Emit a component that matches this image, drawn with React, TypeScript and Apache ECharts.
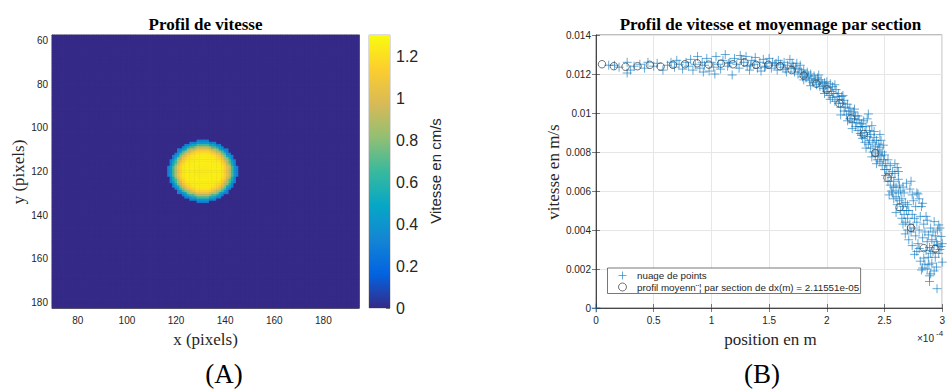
import React, { useEffect, useRef } from 'react';
import * as echarts from 'echarts';

// ---------- data ----------
// left panel: image pixel grid (pixels)
const HEAT_X: number[] = Array.from({ length: 125 }, (_, i) => 70 + i);
const HEAT_Y: number[] = Array.from({ length: 125 }, (_, i) => 58 + i);
const SPOT_X = 131; // centre of the jet (pixels)
const SPOT_Y = 120;
const DX = 2.11551e-5; // m per pixel / section width
const PROFILE_RMAX = 3.0; // x10^-4 m

// right panel: averaged profile (position x10^-4 m, velocity x10^-3 m/s)
const profileX = [0.052, 0.155, 0.256, 0.36, 0.466, 0.56, 0.667, 0.77, 0.876, 0.977, 1.083, 1.186, 1.287, 1.387, 1.494, 1.594, 1.695, 1.8, 1.91, 2.0, 2.11, 2.21, 2.32, 2.42, 2.525, 2.63, 2.73, 2.84, 2.94];
const profileV = [12.5, 12.4, 12.37, 12.4, 12.47, 12.38, 12.47, 12.5, 12.55, 12.48, 12.53, 12.5, 12.6, 12.47, 12.47, 12.4, 12.2, 11.92, 11.5, 11.2, 10.49, 9.72, 8.92, 7.95, 6.68, 5.17, 4.11, 3.07, 3.03];

// point cloud: [position x10^-4 m, velocity x10^-3 m/s]
const cloudPoints: number[][] = [
  [0, 0],
  [0.11, 12.45], [0.16, 12.45], [0.2, 12.35], [0.27, 12.05],
  [0.27, 12.6], [0.30, 12.2], [0.33, 12.4], [0.38, 12.5], [0.42, 12.3], [0.45, 12.6], [0.5, 12.4], [0.53, 12.55], [0.58, 12.2], [0.62, 12.45], [0.65, 12.6], [0.68, 12.35], [0.72, 12.5], [0.75, 12.25], [0.7, 12.7],
  [0.78, 12.6], [0.8, 12.4], [0.82, 12.75], [0.84, 12.2], [0.86, 12.5], [0.88, 12.9], [0.9, 12.3], [0.92, 12.6], [0.94, 12.45], [0.96, 12.8], [0.98, 12.15], [1.0, 12.6], [1.02, 12.35], [1.04, 12.9], [1.06, 12.5], [1.08, 12.25], [1.1, 12.7], [1.12, 13.0], [1.14, 12.4], [1.16, 12.6], [1.18, 11.95], [1.2, 12.8], [1.03, 12.0], [0.93, 12.1], [1.15, 12.55],
  [1.22, 12.5], [1.24, 12.3], [1.26, 12.75], [1.28, 12.6], [1.3, 12.9], [1.31, 12.4], [1.33, 12.2], [1.35, 12.7], [1.37, 12.5], [1.38, 12.85], [1.4, 12.3], [1.42, 12.6], [1.43, 12.15], [1.45, 12.75], [1.47, 12.4], [1.48, 12.55], [1.5, 12.8], [1.52, 12.3], [1.53, 12.6], [1.55, 12.45], [1.57, 12.2], [1.58, 12.7], [1.6, 12.5], [1.62, 12.35], [1.63, 12.6], [1.65, 12.1], [1.66, 12.45], [1.68, 12.75], [1.69, 12.3], [1.25, 12.95], [1.34, 12.45], [1.46, 12.35], [1.56, 12.55], [1.64, 12.25], [1.7, 12.55],
  [1.71, 12.4], [1.72, 12.1], [1.73, 12.3], [1.75, 12.0], [1.76, 12.25], [1.77, 12.45], [1.78, 12.1], [1.79, 11.85], [1.8, 12.2], [1.81, 12.0], [1.82, 11.8], [1.83, 12.1], [1.84, 11.9], [1.85, 11.65], [1.86, 12.0], [1.87, 11.75], [1.88, 11.55], [1.89, 11.9], [1.9, 11.7], [1.91, 11.45], [1.92, 11.8], [1.93, 11.6], [1.94, 11.35], [1.95, 11.7], [1.96, 11.5], [1.97, 11.25], [1.98, 11.55], [1.99, 11.4], [2.0, 11.1], [2.0, 11.6], [1.74, 12.55], [1.86, 11.4], [1.93, 11.95], [1.98, 11.0], [1.8, 11.7],
  [2.01, 11.3], [2.02, 10.9], [2.03, 11.5], [2.04, 11.1], [2.05, 10.8], [2.05, 11.35], [2.06, 11.0], [2.07, 10.6], [2.08, 11.2], [2.09, 10.85], [2.1, 10.5], [2.1, 11.0], [2.11, 10.7], [2.12, 10.3], [2.13, 10.85], [2.14, 10.5], [2.15, 10.1], [2.15, 10.65], [2.16, 10.3], [2.17, 9.9], [2.18, 10.45], [2.19, 10.1], [2.2, 9.7], [2.2, 10.25], [2.21, 9.95], [2.22, 9.5], [2.23, 10.05], [2.24, 9.7], [2.25, 9.3], [2.25, 9.85], [2.26, 9.5], [2.27, 9.1], [2.28, 9.65], [2.29, 9.3], [2.3, 8.85], [2.3, 9.45], [2.12, 9.9], [2.18, 9.6], [2.24, 10.2], [2.07, 11.45], [2.27, 9.85], [2.14, 10.9], [2.22, 9.2], [2.29, 8.95], [2.03, 10.7],
  [2.31, 9.3], [2.31, 8.7], [2.32, 9.6], [2.33, 9.0], [2.33, 8.5], [2.34, 9.3], [2.35, 8.8], [2.35, 9.7], [2.36, 8.4], [2.37, 9.1], [2.37, 8.6], [2.38, 8.2], [2.38, 8.9], [2.39, 9.35], [2.4, 8.5], [2.4, 8.0], [2.41, 8.75], [2.42, 8.3], [2.42, 7.8], [2.43, 8.6], [2.44, 8.1], [2.44, 7.6], [2.45, 8.4], [2.45, 7.9], [2.46, 8.25], [2.46, 7.5], [2.47, 7.8], [2.47, 8.6], [2.48, 7.3], [2.48, 8.0], [2.49, 7.6], [2.49, 8.35], [2.5, 7.1], [2.5, 7.85], [2.36, 9.95], [2.41, 9.05], [2.34, 8.2], [2.43, 7.4], [2.39, 7.75], [2.46, 8.9],
  [2.51, 7.4], [2.51, 6.8], [2.52, 7.1], [2.53, 6.5], [2.53, 7.6], [2.54, 6.9], [2.55, 7.3], [2.55, 6.3], [2.56, 6.7], [2.57, 7.0], [2.57, 5.9], [2.58, 6.5], [2.58, 5.6], [2.59, 6.9], [2.6, 6.2], [2.6, 5.7], [2.61, 7.2], [2.61, 5.3], [2.62, 6.6], [2.62, 5.9], [2.63, 5.5], [2.63, 6.3], [2.64, 5.0], [2.64, 6.0], [2.65, 4.6], [2.65, 5.6], [2.66, 6.2], [2.66, 5.2], [2.67, 4.8], [2.67, 5.9], [2.68, 4.4], [2.68, 5.4], [2.69, 5.0], [2.69, 6.4], [2.7, 4.6], [2.7, 5.3], [2.56, 6.0], [2.59, 7.4], [2.62, 7.0], [2.54, 5.8], [2.66, 4.3], [2.68, 3.8], [2.6, 4.9], [2.7, 4.0], [2.58, 6.2],
  [2.71, 3.5], [2.71, 5.0], [2.72, 6.1], [2.72, 4.3], [2.73, 6.5], [2.73, 3.9], [2.74, 3.2], [2.74, 4.8], [2.75, 5.5], [2.75, 4.1], [2.76, 2.75], [2.76, 4.6], [2.77, 3.7], [2.77, 5.2], [2.78, 5.9], [2.78, 4.4], [2.79, 3.3], [2.79, 5.85], [2.8, 3.05], [2.8, 4.0], [2.81, 4.7], [2.81, 2.4], [2.82, 5.2], [2.82, 1.95], [2.83, 3.6], [2.83, 5.37], [2.83, 2.05], [2.84, 2.56], [2.84, 4.3], [2.85, 2.25], [2.85, 3.9], [2.86, 2.95], [2.86, 4.7], [2.87, 3.4], [2.87, 4.5], [2.88, 2.6], [2.88, 3.75], [2.885, 2.22], [2.89, 1.65], [2.89, 1.36], [2.89, 3.1], [2.9, 4.1], [2.9, 2.81], [2.9, 1.75], [2.91, 3.5], [2.91, 2.3], [2.92, 3.9], [2.92, 2.9], [2.93, 4.43], [2.93, 3.2], [2.94, 2.6], [2.94, 3.7], [2.95, 3.4], [2.955, 0.99], [2.95, 2.1], [2.96, 3.24], [2.96, 4.0], [2.97, 4.26], [2.97, 2.8], [2.98, 4.1], [2.98, 3.0], [2.99, 3.67], [2.99, 3.15], [3.0, 2.35], [3.0, 3.3], [2.78, 2.9], [2.8, 5.6], [2.74, 5.8], [2.87, 2.0], [2.93, 1.9],
];

const COLORBAR_MAX = 1.3; // cm/s
const PARULA = ['#352a87', '#0363e1', '#1485d4', '#06a7c6', '#38b99e', '#92bf73', '#d9ba56', '#fcce2e', '#f9fb0e'];

const LEGEND_CLOUD = 'nuage de points';
const LEGEND_MEAN = 'profil moyenn\u00a8\u00a6 par section de dx(m) = 2.11551e-05';

// ---------- helpers ----------
const SANS = 'Liberation Sans, Arial, sans-serif';
const SERIF = 'Liberation Serif, Times New Roman, serif';
const AX = '#262626';
const PLUS_PATH = 'path://M5,0L5,10M0,5L10,5';
const CLOUD_COLOR = 'rgba(0,114,189,0.75)';
const MEAN_COLOR = '#3a3a3a';

function buildHeat(): number[][] {
  const out: number[][] = [];
  HEAT_X.forEach((xv, i) => {
    HEAT_Y.forEach((yv, j) => {
      const r = Math.hypot(xv - SPOT_X, yv - SPOT_Y) * DX * 1e4;
      let v = 0;
      if (r <= PROFILE_RMAX) {
        let best = 0;
        profileX.forEach((p, k) => {
          if (Math.abs(p - r) < Math.abs(profileX[best] - r)) best = k;
        });
        v = profileV[best] / 10; // 1e-3 m/s -> cm/s
      }
      out.push([i, j, v]);
    });
  });
  return out;
}

const every20 = (_: number, value: string) => Number(value) % 20 === 0;

export default function App() {
  const ref = useRef<HTMLDivElement>(null);
  useEffect(() => {
    const chart = echarts.init(ref.current!, null, { renderer: 'svg' });
    const gradStops = PARULA.map((c, i) => ({ offset: i / (PARULA.length - 1), color: c }));
    const catAxisBase = {
      type: 'category' as const,
      axisLine: { show: true, lineStyle: { color: AX, width: 0.6 } },
      axisTick: { show: true, inside: true, length: 4, alignWithLabel: true, interval: every20, lineStyle: { color: AX, width: 0.6 } },
      axisLabel: { interval: every20, fontSize: 10, color: AX, fontFamily: SANS },
      splitLine: { show: false },
    };
    const option: any = {
      animation: false,
      backgroundColor: '#ffffff',
      grid: [
        { left: 52, top: 35, width: 307, height: 273, show: true, backgroundColor: PARULA[0], borderColor: AX, borderWidth: 0.6 },
        { left: 369, top: 35, width: 21, height: 273, show: true, borderColor: '#8a8a8a', borderWidth: 0.6 },
        { left: 596, top: 35, width: 348, height: 273, show: true, borderColor: AX, borderWidth: 0.6 },
      ],
      xAxis: [
        { ...catAxisBase, gridIndex: 0, data: HEAT_X.map(String), position: 'bottom', axisLabel: { ...catAxisBase.axisLabel, margin: 7 } },
        { ...catAxisBase, gridIndex: 0, data: HEAT_X.map(String), position: 'top', axisLabel: { show: false } },
        { type: 'category', gridIndex: 1, data: [''], show: false },
        {
          type: 'value', gridIndex: 2, min: 0, max: 3, interval: 0.5, position: 'bottom',
          axisLine: { show: true, lineStyle: { color: AX, width: 0.6 } },
          axisTick: { show: true, inside: true, length: 4, lineStyle: { color: AX, width: 0.6 } },
          axisLabel: { fontSize: 10, color: AX, fontFamily: SANS, margin: 7, showMaxLabel: true, showMinLabel: true },
          splitLine: { show: true, lineStyle: { color: '#e6e6e6', width: 1 } },
        },
        {
          type: 'value', gridIndex: 2, min: 0, max: 3, interval: 0.5, position: 'top',
          axisLine: { show: true, lineStyle: { color: AX, width: 0.6 } },
          axisTick: { show: true, inside: true, length: 4, lineStyle: { color: AX, width: 0.6 } },
          axisLabel: { show: false }, splitLine: { show: false },
        },
      ],
      yAxis: [
        { ...catAxisBase, gridIndex: 0, data: HEAT_Y.map(String), inverse: true, position: 'left', axisLabel: { ...catAxisBase.axisLabel, margin: 4 } },
        { ...catAxisBase, gridIndex: 0, data: HEAT_Y.map(String), inverse: true, position: 'right', axisLabel: { show: false } },
        {
          type: 'value', gridIndex: 1, min: 0, max: COLORBAR_MAX, interval: 0.2, position: 'right',
          axisLine: { show: false },
          axisTick: { show: true, inside: true, length: 4, lineStyle: { color: AX, width: 0.6 } },
          axisLabel: { fontSize: 16, color: AX, fontFamily: SANS, margin: 6, showMaxLabel: false, formatter: (v: number) => String(Math.round(v * 10) / 10) },
          splitLine: { show: false },
        },
        {
          type: 'value', gridIndex: 2, min: 0, max: 0.014, interval: 0.002, position: 'left',
          axisLine: { show: true, lineStyle: { color: AX, width: 0.6 } },
          axisTick: { show: true, inside: true, length: 4, lineStyle: { color: AX, width: 0.6 } },
          axisLabel: {
            fontSize: 10, color: AX, fontFamily: SANS, margin: 5,
            formatter: (v: number) => (v === 0 ? '0' : (Math.round(v * 1000) / 1000).toString()),
          },
          splitLine: { show: true, lineStyle: { color: '#e6e6e6', width: 1 } },
        },
        {
          type: 'value', gridIndex: 2, min: 0, max: 0.014, interval: 0.002, position: 'right',
          axisLine: { show: true, lineStyle: { color: AX, width: 0.6 } },
          axisTick: { show: true, inside: true, length: 4, lineStyle: { color: AX, width: 0.6 } },
          axisLabel: { show: false }, splitLine: { show: false },
        },
      ],
      visualMap: {
        type: 'continuous', show: false, min: 0, max: COLORBAR_MAX, seriesIndex: 0, dimension: 2,
        inRange: { color: PARULA },
      },
      legend: {
        data: [
          { name: LEGEND_CLOUD, icon: PLUS_PATH, itemStyle: { color: 'transparent', borderColor: CLOUD_COLOR, borderWidth: 1 } },
          { name: LEGEND_MEAN, icon: 'circle', itemStyle: { color: 'transparent', borderColor: MEAN_COLOR, borderWidth: 0.9 } },
        ],
        orient: 'vertical', left: 607.5, top: 268,
        backgroundColor: '#ffffff', borderColor: '#555555', borderWidth: 0.8, borderRadius: 0,
        padding: [2.5, 1.5, 1.5, 10.5], itemGap: 1.5, itemWidth: 8, itemHeight: 8,
        textStyle: { fontSize: 9.8, color: AX, fontFamily: SANS, padding: [0, 0, 0, 5.5] },
      },
      series: [
        {
          type: 'heatmap', xAxisIndex: 0, yAxisIndex: 0, data: buildHeat(),
          progressive: 0, itemStyle: { borderWidth: 0 }, emphasis: { disabled: true },
        },
        {
          type: 'bar', xAxisIndex: 2, yAxisIndex: 2, data: [COLORBAR_MAX], barWidth: '100%', silent: true,
          itemStyle: { color: new echarts.graphic.LinearGradient(0, 1, 0, 0, gradStops) },
        },
        {
          name: LEGEND_CLOUD, type: 'scatter', xAxisIndex: 3, yAxisIndex: 3,
          data: cloudPoints.map(([x, v]) => [x, v * 1e-3]),
          symbol: PLUS_PATH, symbolSize: 9,
          itemStyle: { color: 'transparent', borderColor: CLOUD_COLOR, borderWidth: 1 },
          emphasis: { disabled: true },
        },
        {
          name: LEGEND_MEAN, type: 'scatter', xAxisIndex: 3, yAxisIndex: 3,
          data: profileX.map((x, i) => [x, profileV[i] * 1e-3]),
          symbol: 'circle', symbolSize: 7.5,
          itemStyle: { color: 'transparent', borderColor: MEAN_COLOR, borderWidth: 0.9 },
          emphasis: { disabled: true },
        },
      ],
      graphic: [
        { type: 'text', x: 205.5, y: 24, style: { text: 'Profil de vitesse', font: `bold 17px ${SERIF}`, fill: '#000', align: 'center', verticalAlign: 'middle' } },
        { type: 'text', x: 205.5, y: 339, style: { text: 'x (pixels)', font: `17px ${SERIF}`, fill: AX, align: 'center', verticalAlign: 'middle' } },
        { type: 'text', x: 18, y: 172, rotation: Math.PI / 2, style: { text: 'y (pixels)', font: `17px ${SERIF}`, fill: AX, align: 'center', verticalAlign: 'middle' } },
        { type: 'text', x: 435, y: 171, rotation: Math.PI / 2, style: { text: 'Vitesse en cm/s', font: `15px ${SANS}`, fill: AX, align: 'center', verticalAlign: 'middle' } },
        { type: 'text', x: 224, y: 374, style: { text: '(A)', font: `27px ${SERIF}`, fill: '#000', align: 'center', verticalAlign: 'middle' } },
        { type: 'text', x: 770.5, y: 24, style: { text: 'Profil de vitesse et moyennage par section', font: `bold 17px ${SERIF}`, fill: '#000', align: 'center', verticalAlign: 'middle' } },
        { type: 'text', x: 770.5, y: 339, style: { text: 'position en m', font: `17px ${SERIF}`, fill: AX, align: 'center', verticalAlign: 'middle' } },
        { type: 'text', x: 553, y: 172, rotation: Math.PI / 2, style: { text: 'vitesse en m/s', font: `17px ${SERIF}`, fill: AX, align: 'center', verticalAlign: 'middle' } },
        { type: 'text', x: 917, y: 338, style: { text: '\u00d710', font: `10px ${SANS}`, fill: AX, align: 'left', verticalAlign: 'middle' } },
        { type: 'text', x: 936, y: 333, style: { text: '-4', font: `8px ${SANS}`, fill: AX, align: 'left', verticalAlign: 'middle' } },
        { type: 'text', x: 762, y: 374, style: { text: '(B)', font: `27px ${SERIF}`, fill: '#000', align: 'center', verticalAlign: 'middle' } },
      ],
    };
    chart.setOption(option);
    return () => chart.dispose();
  }, []);
  return <div ref={ref} style={{ position: 'fixed', left: 0, top: 0, width: 948, height: 390 }} />;
}
